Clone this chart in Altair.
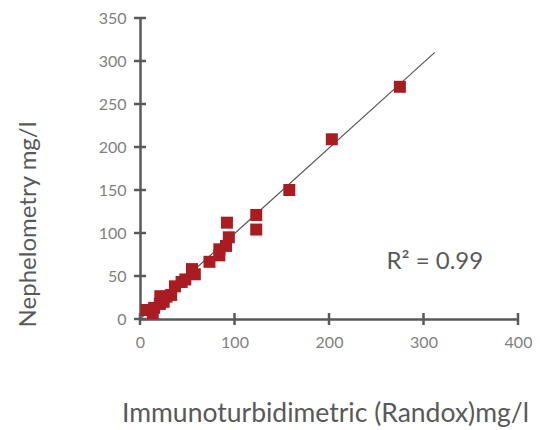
import altair as alt
import pandas as pd

# Data
immuno = [7, 13.5, 15, 21, 21.5, 25, 28, 33, 37, 44, 48, 55, 58, 73.5, 84, 84, 91, 92, 94, 123, 123, 158, 203, 275]
nephelo = [10.5, 7, 13, 17.5, 26.5, 20, 26, 28, 38, 43, 46, 58, 52, 66.5, 74, 81, 85, 112, 95, 121, 104, 150, 209, 270]

trend_x = [0, 312]
trend_y = [0, 310]

r2_label = ["R\u00b2 = 0.99"]
r2_x = [312]
r2_y = [66]

x_ticks = [0, 100, 200, 300, 400]
y_ticks = [0, 50, 100, 150, 200, 250, 300, 350]

FONT = "Lato"
AXIS_COLOR = "#595959"
LABEL_COLOR = "#7f7f7f"
MARK_COLOR = "#a81c22"

points = pd.DataFrame({"x": immuno, "y": nephelo})
trend = pd.DataFrame({"x": trend_x, "y": trend_y})
r2 = pd.DataFrame({"x": r2_x, "y": r2_y, "t": r2_label})
xt = pd.DataFrame({"x": x_ticks, "y": [0] * len(x_ticks)})
yt = pd.DataFrame({"x": [0] * len(y_ticks), "y": y_ticks})

xscale = alt.Scale(domain=[0, 400], nice=False, zero=True)
yscale = alt.Scale(domain=[0, 350], nice=False, zero=True)

xaxis = alt.Axis(
    title="Immunoturbidimetric (Randox)mg/l",
    values=x_ticks, grid=False, ticks=False, tickSize=0, labelFlush=False,
    domainColor=AXIS_COLOR, domainWidth=2.5,
    labelColor=LABEL_COLOR, labelFont=FONT, labelFontSize=16, labelPadding=15,
    titleColor=AXIS_COLOR, titleFont=FONT, titleFontSize=26.5, titleFontWeight="normal",
    titleX=185, titleY=102, titleBaseline="alphabetic",
)
yaxis = alt.Axis(
    title="Nephelometry mg/l",
    values=y_ticks, grid=False, ticks=False, tickSize=0,
    domainColor=AXIS_COLOR, domainWidth=2.5,
    labelColor=LABEL_COLOR, labelFont=FONT, labelFontSize=16, labelPadding=14,
    titleColor=AXIS_COLOR, titleFont=FONT, titleFontSize=24, titleFontWeight="normal",
    titleX=-105, titleY=206, titleBaseline="alphabetic", titleAngle=-90,
)

line = alt.Chart(trend).mark_line(color=AXIS_COLOR, strokeWidth=1.2).encode(
    x=alt.X("x:Q", scale=xscale, axis=xaxis),
    y=alt.Y("y:Q", scale=yscale, axis=yaxis),
)

xtick_marks = alt.Chart(xt).mark_tick(
    orient="vertical", color=AXIS_COLOR, thickness=2.5, size=12, opacity=1
).encode(x=alt.X("x:Q", scale=xscale), y=alt.Y("y:Q", scale=yscale))

ytick_marks = alt.Chart(yt).mark_tick(
    orient="horizontal", color=AXIS_COLOR, thickness=2.5, size=12, opacity=1
).encode(x=alt.X("x:Q", scale=xscale), y=alt.Y("y:Q", scale=yscale))

pts = alt.Chart(points).mark_point(
    shape="square", filled=True, opacity=1, color=MARK_COLOR, size=144
).encode(
    x=alt.X("x:Q", scale=xscale),
    y=alt.Y("y:Q", scale=yscale),
)

txt = alt.Chart(r2).mark_text(
    font=FONT, fontSize=24, color=AXIS_COLOR, align="center", baseline="middle"
).encode(
    x=alt.X("x:Q", scale=xscale),
    y=alt.Y("y:Q", scale=yscale),
    text="t:N",
)

chart = alt.layer(line, xtick_marks, ytick_marks, pts, txt).properties(
    width=378, height=301,
    autosize=alt.AutoSizeParams(type="none"),
    padding={"left": 132, "top": 10, "right": 14, "bottom": 110},
).configure_view(stroke=None)

chart.save("out.html", embed_options={"renderer": "svg", "actions": False})
